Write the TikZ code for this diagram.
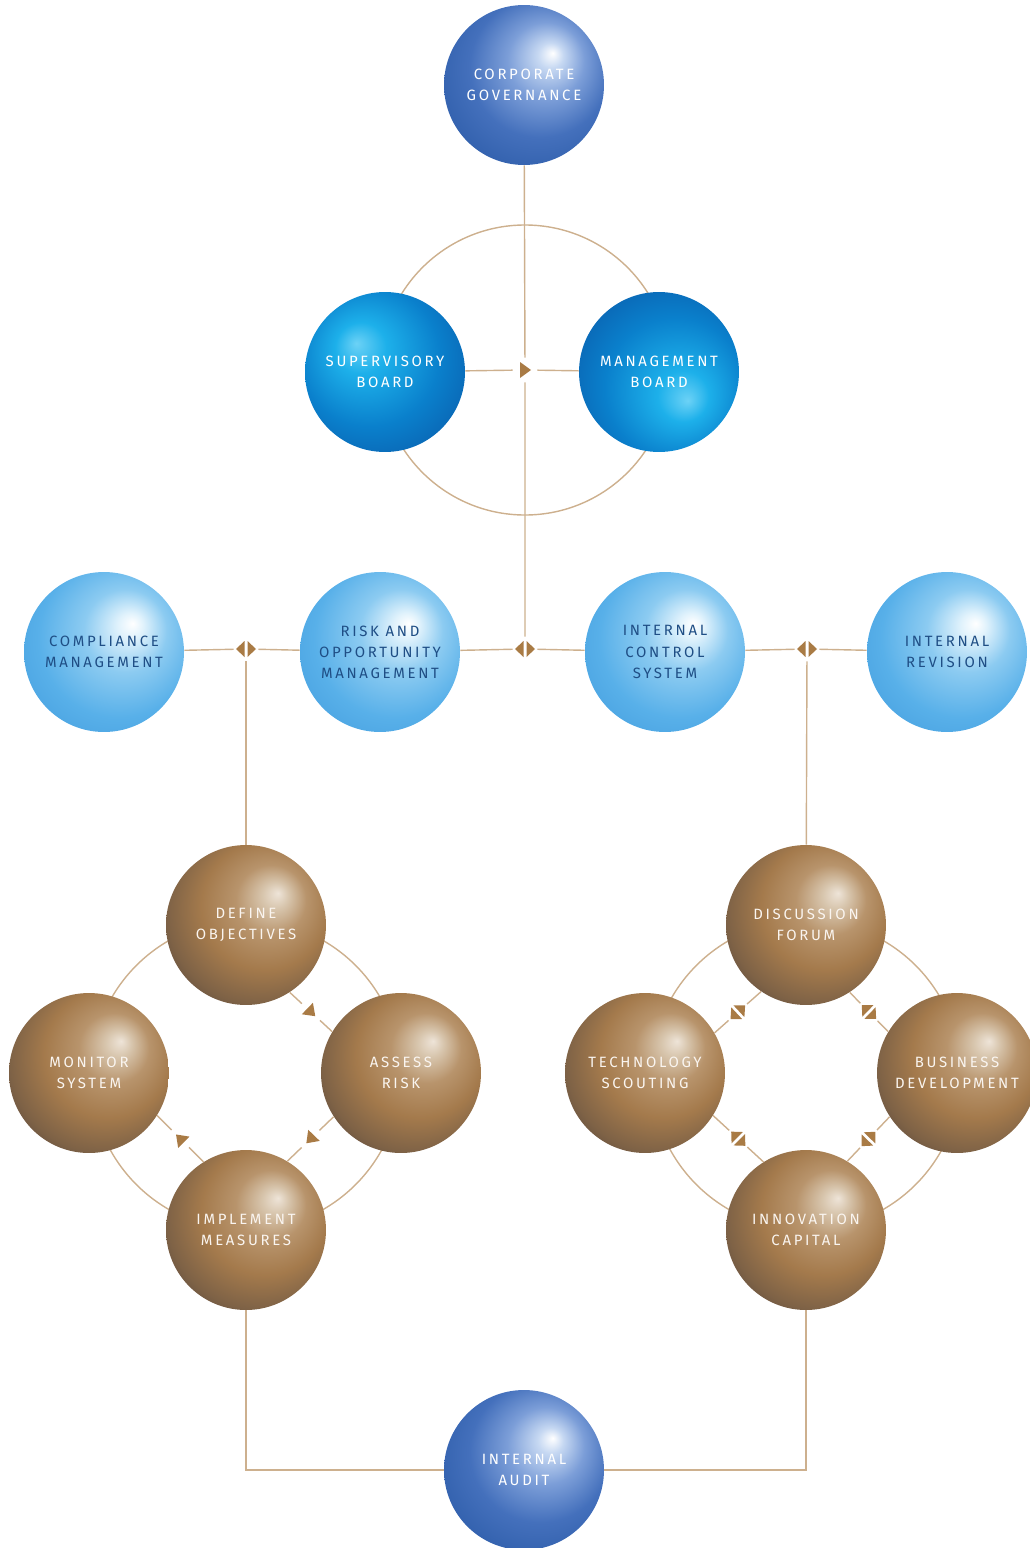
\documentclass[tikz,border=0pt]{standalone}
\usepackage{fontspec}
\usetikzlibrary{calc}
\newfontfamily\ballfont[LetterSpace=18]{Fira Sans}
\definecolor{linetan}{HTML}{CDB08E}
\definecolor{mkbrown}{HTML}{A97B45}
\definecolor{txtblue}{HTML}{1F4E85}
\definecolor{navyA}{HTML}{C6D8F2}
\definecolor{navyB}{HTML}{7C9ED8}
\definecolor{navyC}{HTML}{4470BC}
\definecolor{navyD}{HTML}{2253A0}
\definecolor{skyA}{HTML}{E0F2FC}
\definecolor{skyB}{HTML}{8CCBF1}
\definecolor{skyC}{HTML}{58B0E9}
\definecolor{skyD}{HTML}{3C96DA}
\definecolor{cyanA}{HTML}{6CD2F6}
\definecolor{cyanB}{HTML}{1DB0EA}
\definecolor{cyanC}{HTML}{0A80CC}
\definecolor{cyanD}{HTML}{0A52A2}
\definecolor{brnA}{HTML}{EEE4D8}
\definecolor{brnB}{HTML}{D8C6AE}
\definecolor{brnC}{HTML}{B8946C}
\definecolor{brnD}{HTML}{A47A4C}
\definecolor{brnE}{HTML}{7E6246}
\definecolor{brnF}{HTML}{54443A}
\definecolor{brnG}{HTML}{3C3228}
% shadings: the node's circle spans -25bp..25bp
\pgfdeclareradialshading{navysph}{\pgfpoint{9bp}{10bp}}{color(0bp)=(white); color(4bp)=(navyA); color(12bp)=(navyB); color(22bp)=(navyC); color(40bp)=(navyD); color(50bp)=(navyD)}
\pgfdeclareradialshading{skysph}{\pgfpoint{9bp}{9bp}}{color(0bp)=(white); color(4bp)=(skyA); color(13bp)=(skyB); color(25bp)=(skyC); color(42bp)=(skyD); color(50bp)=(skyD)}
\pgfdeclareradialshading{cyansphL}{\pgfpoint{-9bp}{9bp}}{color(0bp)=(cyanA); color(8bp)=(cyanB); color(22bp)=(cyanC); color(40bp)=(cyanD); color(50bp)=(cyanD)}
\pgfdeclareradialshading{cyansphR}{\pgfpoint{9bp}{-9bp}}{color(0bp)=(cyanA); color(8bp)=(cyanB); color(22bp)=(cyanC); color(40bp)=(cyanD); color(50bp)=(cyanD)}
\pgfdeclareradialshading{brnsph}{\pgfpoint{10bp}{10bp}}{color(0bp)=(brnA); color(4bp)=(brnB); color(11bp)=(brnC); color(20bp)=(brnD); color(29bp)=(brnE); color(36bp)=(brnF); color(45bp)=(brnG); color(50bp)=(brnG)}
\tikzset{
  ball/.style   ={circle, minimum size=3.2cm, inner sep=0pt, align=center,
                  font=\ballfont\fontsize{8.5}{12}\selectfont, text=white},
  navyball/.style ={ball, shading=navysph},
  skyball/.style  ={ball, shading=skysph, text=txtblue},
  brownball/.style={ball, shading=brnsph, text=white!92!brown},
  lnk/.style    ={draw=linetan, line width=0.8pt},
  gapc/.style   ={circle, minimum size=0.48cm, inner sep=0pt},
  splitmk/.pic  ={\node[gapc] (-c) {};
                  \fill[mkbrown] (-1.5,8) -- (-1.5,-8) -- (-10,0) -- cycle;
                  \fill[mkbrown] (1.5,8) -- (1.5,-8) -- (10,0) -- cycle;},
  tipmk/.pic    ={\node[gapc] (-c) {};
                  \fill[mkbrown] (6,0) -- (-5,8) -- (-5,-8) -- cycle;}
}
\begin{document}
\begin{tikzpicture}[x=0.02cm, y=0.02cm]
    \useasboundingbox (0,0) rectangle (1030,-1548);
    \pic (mTop) at (525,-370) {tipmk};
    \pic (mL) at (246,-649) {splitmk};
    \pic (mC) at (525,-649) {splitmk};
    \pic (mR) at (807,-649) {splitmk};
    \coordinate (lc) at (246,-1075);
    \coordinate (rc) at (806,-1075);
    \draw[lnk] (mTop-c) circle[radius=145];
    \draw[lnk] (lc) circle[radius=155];
    \draw[lnk] (rc) circle[radius=155];

    \node[navyball] (corp) at (524,-85) {CORPORATE\\GOVERNANCE};
    \node[ball, shading=cyansphL] (sup) at (385,-372) {SUPERVISORY\\BOARD};
    \node[ball, shading=cyansphR] (mgmt) at (659,-372) {MANAGEMENT\\BOARD};
    \node[skyball] (comp) at (104,-652) {COMPLIANCE\\MANAGEMENT};
    \node[skyball] (risk) at (380,-652) {RISK AND\\OPPORTUNITY\\MANAGEMENT};
    \node[skyball] (ics) at (665,-652) {INTERNAL\\CONTROL\\SYSTEM};
    \node[skyball] (rev) at (947,-652) {INTERNAL\\REVISION};
    \node[brownball] (def) at (246,-925) {DEFINE\\OBJECTIVES};
    \node[brownball] (mon) at (89,-1073) {MONITOR\\SYSTEM};
    \node[brownball] (ass) at (401,-1073) {ASSESS\\RISK};
    \node[brownball] (imp) at (246,-1230) {IMPLEMENT\\MEASURES};
    \node[brownball] (disc) at (806,-925) {DISCUSSION\\FORUM};
    \node[brownball] (tech) at (645,-1073) {TECHNOLOGY\\SCOUTING};
    \node[brownball] (bus) at (957,-1073) {BUSINESS\\DEVELOPMENT};
    \node[brownball] (inno) at (806,-1230) {INNOVATION\\CAPITAL};
    \node[navyball] (audit) at (524,-1470) {INTERNAL\\AUDIT};

    \pic[rotate=-44] (d1) at ($(def.-57)!0.5!(ass.149)$) {tipmk};
    \pic[rotate=226] (d2) at ($(ass.213)!0.5!(imp.59)$) {tipmk};
    \pic[rotate=135] (d3) at ($(imp.122)!0.5!(mon.-32)$) {tipmk};
    \pic[rotate=43] (r1) at ($(disc.236)!0.5!(tech.30)$) {splitmk};
    \pic[rotate=-44] (r2) at ($(disc.-57)!0.5!(bus.149)$) {splitmk};
    \pic[rotate=-45] (r3) at ($(tech.-32)!0.5!(inno.122)$) {splitmk};
    \pic[rotate=46] (r4) at ($(bus.213)!0.5!(inno.59)$) {splitmk};

    \draw[lnk] (corp) -- (mTop-c) -- (mC-c);
    \draw[lnk] (sup) -- (mTop-c) -- (mgmt);
    \draw[lnk] (comp) -- (mL-c) -- (risk) -- (mC-c) -- (ics) -- (mR-c) -- (rev);
    \draw[lnk] (mL-c) -- (def);
    \draw[lnk] (mR-c) -- (disc);
    \draw[lnk] (imp) |- (audit) -| (inno);
    \draw[lnk] (def.-57) -- (d1-c) -- (ass.149);
    \draw[lnk] (ass.213) -- (d2-c) -- (imp.59);
    \draw[lnk] (imp.122) -- (d3-c) -- (mon.-32);
    \draw[lnk] (disc.236) -- (r1-c) -- (tech.30);
    \draw[lnk] (disc.-57) -- (r2-c) -- (bus.149);
    \draw[lnk] (tech.-32) -- (r3-c) -- (inno.122);
    \draw[lnk] (bus.213) -- (r4-c) -- (inno.59);
  \end{tikzpicture}
\end{document}
